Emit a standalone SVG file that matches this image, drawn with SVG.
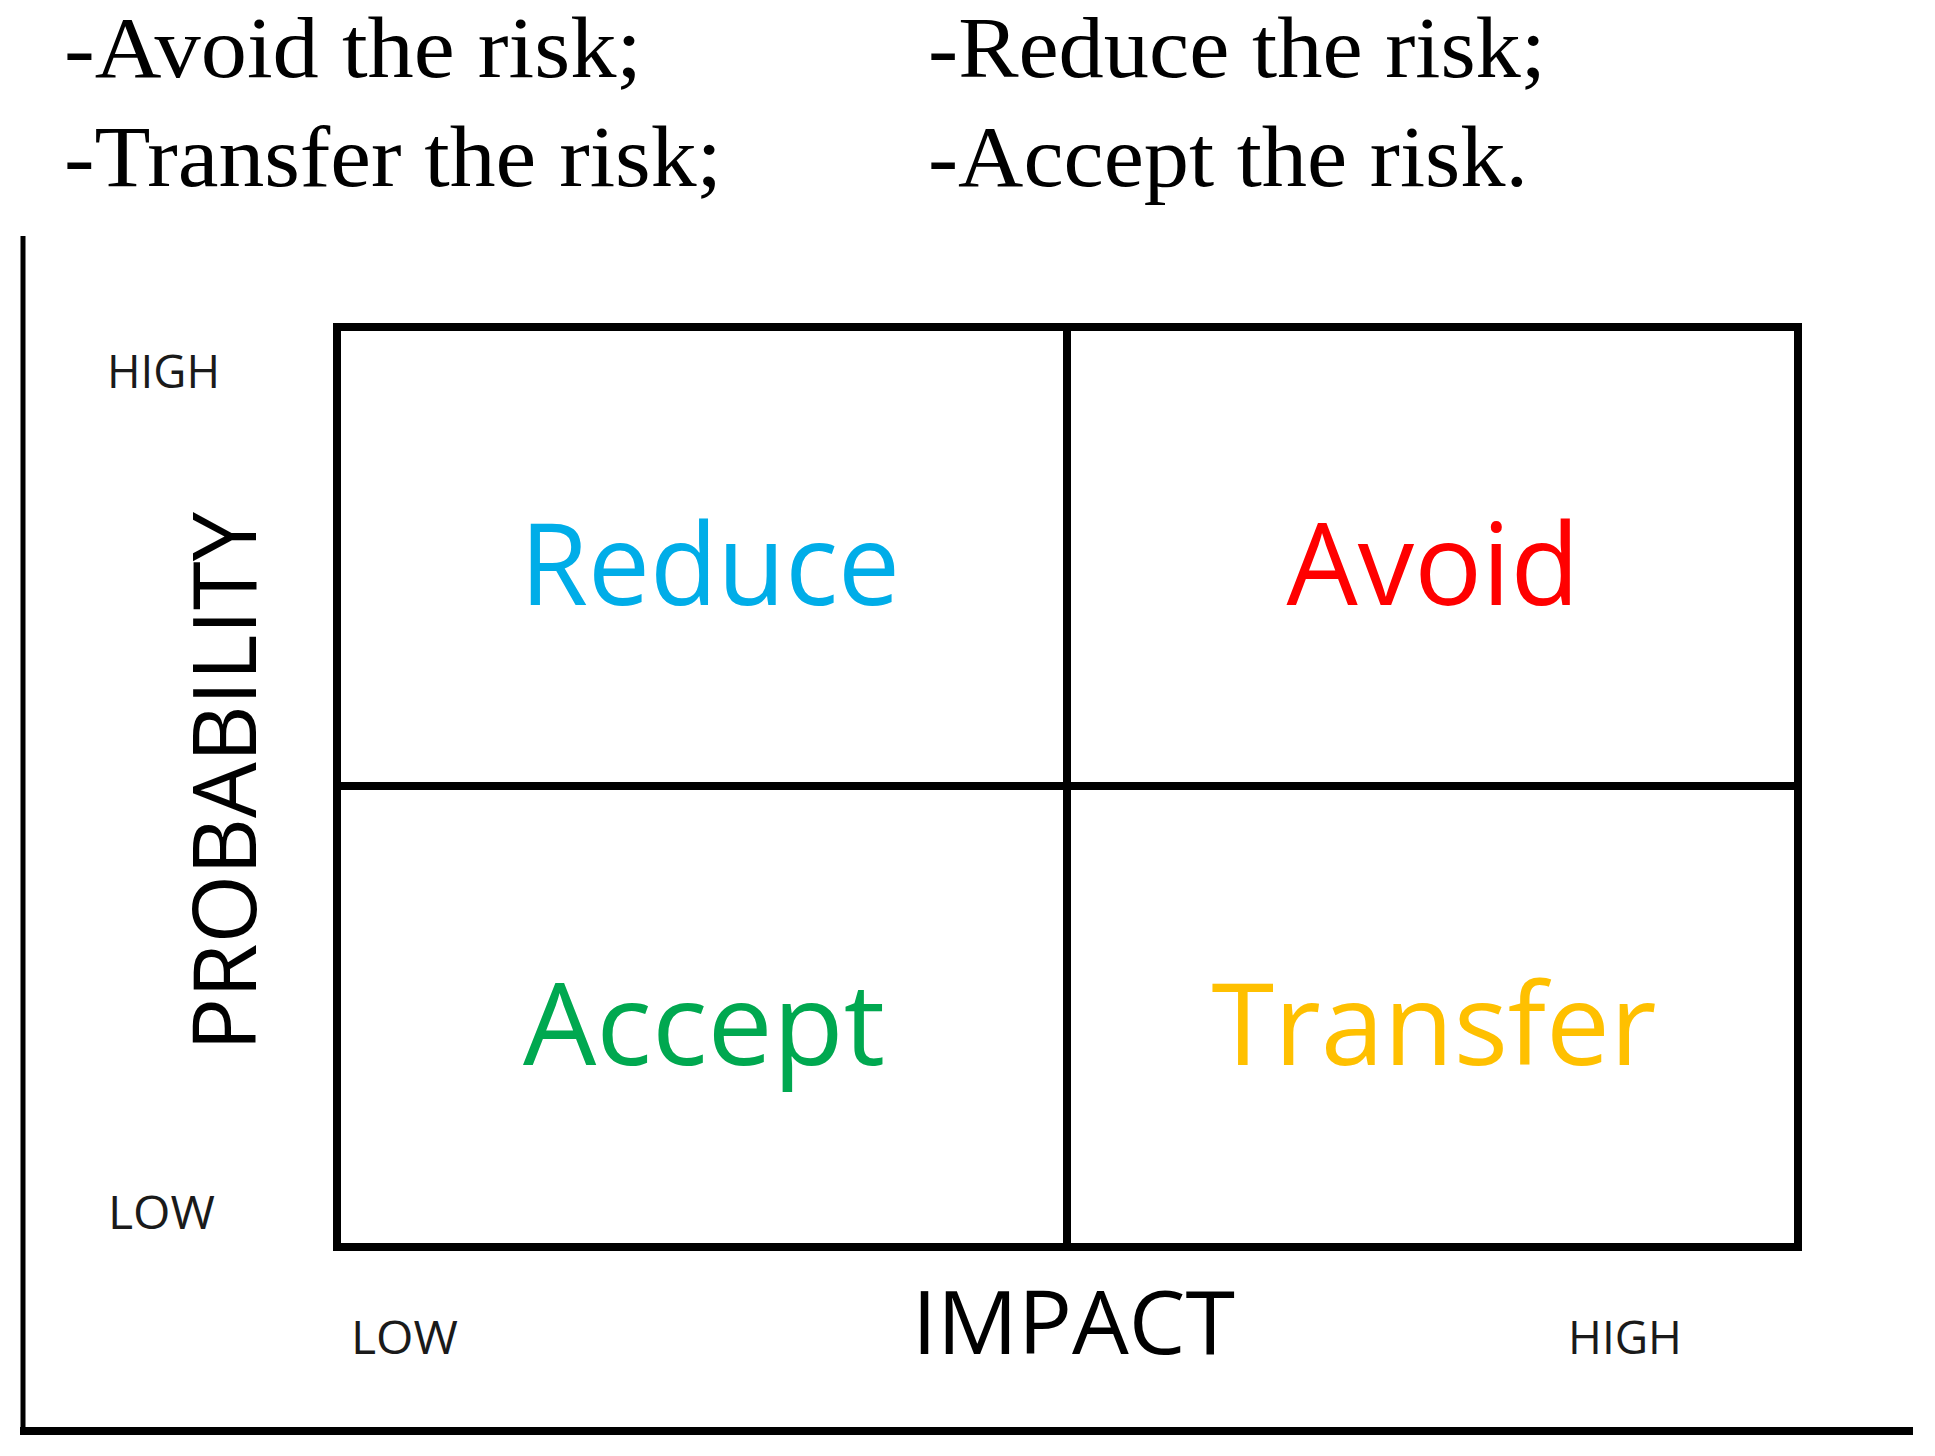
<svg xmlns="http://www.w3.org/2000/svg" width="1935" height="1456" viewBox="0 0 1935 1456">
<style>
.top{font-family:"Liberation Serif","Times New Roman",serif;font-size:86px;fill:#000}
.lab{font-family:"Open Sans","Noto Sans","Liberation Sans",sans-serif;font-size:46px;fill:#1a1a1a}
.axis{font-family:"Open Sans","Noto Sans","Liberation Sans",sans-serif;font-size:88px;fill:#000}
.big{font-family:"Open Sans","Noto Sans","Liberation Sans",sans-serif;font-size:114px;text-anchor:middle}
.ln{stroke:#000;fill:none}
</style>
<rect width="1935" height="1456" fill="#fff"/>
<g id="strategies">
<text class="top" x="64" y="77" textLength="578" lengthAdjust="spacingAndGlyphs">-Avoid the risk;</text>
<text class="top" x="928" y="77" textLength="618" lengthAdjust="spacingAndGlyphs">-Reduce the risk;</text>
<text class="top" x="64" y="186" textLength="658" lengthAdjust="spacingAndGlyphs">-Transfer the risk;</text>
<text class="top" x="928" y="186" textLength="600" lengthAdjust="spacingAndGlyphs">-Accept the risk.</text>
</g>
<g id="frame">
<line class="ln" x1="23" y1="236" x2="23" y2="1434" stroke-width="5"/>
<line class="ln" x1="20" y1="1431" x2="1913" y2="1431" stroke-width="8"/>
</g>
<g id="grid">
<rect class="ln" x="337" y="327" width="1461" height="920" stroke-width="8"/>
<line class="ln" x1="1067" y1="327" x2="1067" y2="1247" stroke-width="8"/>
<line class="ln" x1="337" y1="786" x2="1798" y2="786" stroke-width="8"/>
</g>
<g id="cell-reduce"><text class="big" x="710" y="605" fill="#00ADE8" textLength="380" lengthAdjust="spacingAndGlyphs">Reduce</text></g>
<g id="cell-avoid"><text class="big" x="1433" y="605" fill="#FF0000" textLength="293" lengthAdjust="spacingAndGlyphs">Avoid</text></g>
<g id="cell-accept"><text class="big" x="704" y="1065" fill="#00A850" textLength="362" lengthAdjust="spacingAndGlyphs">Accept</text></g>
<g id="cell-transfer"><text class="big" x="1434" y="1065" fill="#FFC000" textLength="445" lengthAdjust="spacingAndGlyphs">Transfer</text></g>
<g id="labels">
<text class="lab" x="107" y="388" textLength="113" lengthAdjust="spacingAndGlyphs">HIGH</text>
<text class="lab" x="108" y="1229" textLength="107" lengthAdjust="spacingAndGlyphs">LOW</text>
<text class="lab" x="351" y="1354" textLength="107" lengthAdjust="spacingAndGlyphs">LOW</text>
<text class="lab" x="1568" y="1354" textLength="114" lengthAdjust="spacingAndGlyphs">HIGH</text>
<text class="axis" x="912" y="1354" textLength="323" lengthAdjust="spacingAndGlyphs">IMPACT</text>
<text class="axis" transform="translate(256,781.5) rotate(-90)" x="-269.5" y="0" textLength="539" lengthAdjust="spacingAndGlyphs">PROBABILITY</text>
</g>
</svg>
